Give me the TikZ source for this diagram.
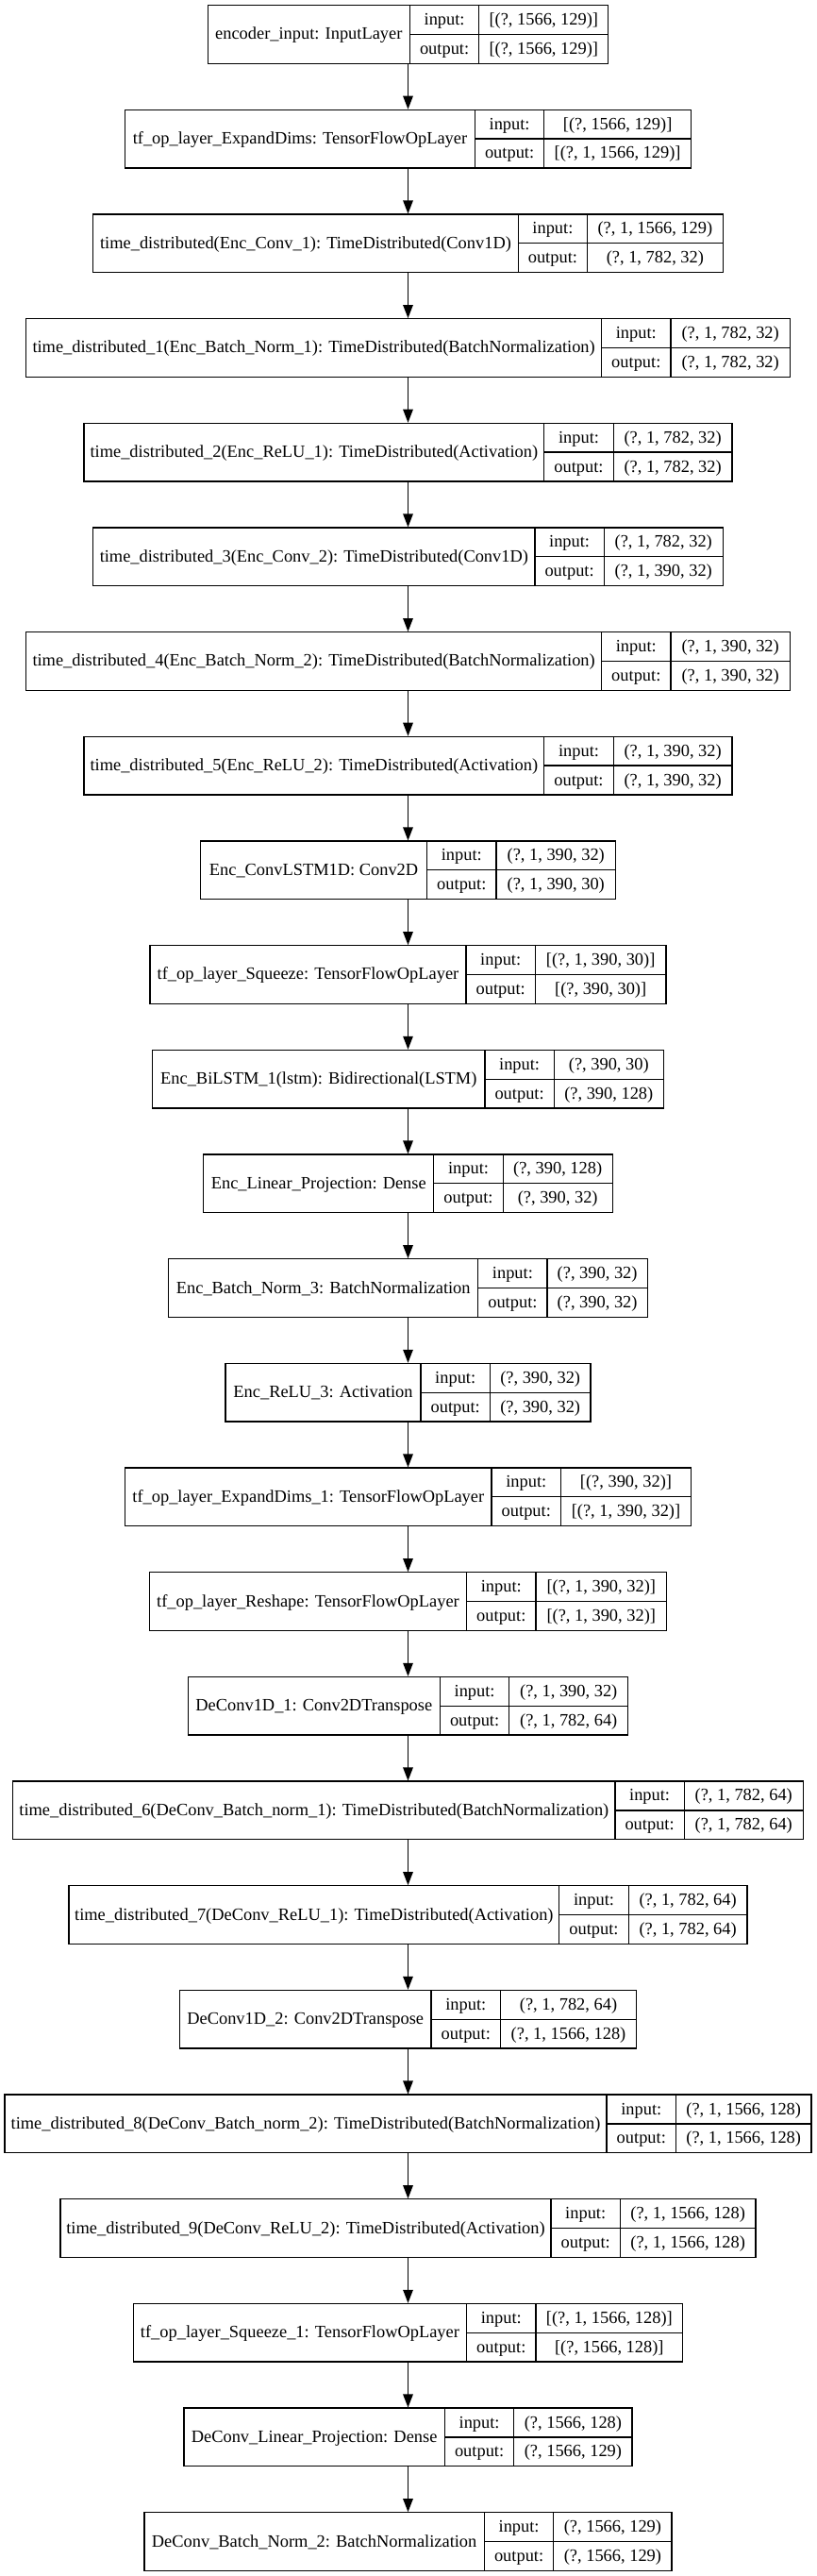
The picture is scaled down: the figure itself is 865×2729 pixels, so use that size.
\documentclass[tikz,border=0pt]{standalone}
\usepackage{fontspec}
\setmainfont{Liberation Serif}
\usetikzlibrary{arrows.meta}

\tikzset{
	layerbox/.style={draw, line width=1.3pt, inner sep=0pt, minimum height=61.5pt},
	cell/.style={inner sep=0pt, anchor=base, font=\fontsize{18.4}{22}\selectfont},
	flow/.style={-{Triangle[length=14pt,width=10.5pt]}, line width=1.3pt},
}

\begin{document}
\begin{tikzpicture}[x=1pt,y=1pt]
	
	\def \boxh{61.5}
	\def \period{110.67}
	\def \celw{73.4}
	\def \xmid{432.5}
	
	\useasboundingbox (0,0) rectangle (865,-2729);
	
	% LAYERS: number / left edge / first divider / name / input / output
	\foreach \i/\xl/\da/\lname/\vin/\vout in {
		1/220.2/434.4/{encoder\_input: InputLayer}/{[(?, 1566, 129)]}/{[(?, 1566, 129)]},
		2/132.5/503.4/{tf\_op\_layer\_ExpandDims: TensorFlowOpLayer}/{[(?, 1566, 129)]}/{[(?, 1, 1566, 129)]},
		3/98.8/549.2/{time\_distributed(Enc\_Conv\_1): TimeDistributed(Conv1D)}/{(?, 1, 1566, 129)}/{(?, 1, 782, 32)},
		4/27.6/637.6/{time\_distributed\_1(Enc\_Batch\_Norm\_1): TimeDistributed(BatchNormalization)}/{(?, 1, 782, 32)}/{(?, 1, 782, 32)},
		5/88.9/576.8/{time\_distributed\_2(Enc\_ReLU\_1): TimeDistributed(Activation)}/{(?, 1, 782, 32)}/{(?, 1, 782, 32)},
		6/98.8/566.9/{time\_distributed\_3(Enc\_Conv\_2): TimeDistributed(Conv1D)}/{(?, 1, 782, 32)}/{(?, 1, 390, 32)},
		7/27.6/637.6/{time\_distributed\_4(Enc\_Batch\_Norm\_2): TimeDistributed(BatchNormalization)}/{(?, 1, 390, 32)}/{(?, 1, 390, 32)},
		8/88.9/576.8/{time\_distributed\_5(Enc\_ReLU\_2): TimeDistributed(Activation)}/{(?, 1, 390, 32)}/{(?, 1, 390, 32)},
		9/212.5/452.6/{Enc\_ConvLSTM1D: Conv2D}/{(?, 1, 390, 32)}/{(?, 1, 390, 30)},
		10/159.0/494.0/{tf\_op\_layer\_Squeeze: TensorFlowOpLayer}/{[(?, 1, 390, 30)]}/{[(?, 390, 30)]},
		11/161.7/513.9/{Enc\_BiLSTM\_1(lstm): Bidirectional(LSTM)}/{(?, 390, 30)}/{(?, 390, 128)},
		12/215.8/459.8/{Enc\_Linear\_Projection: Dense}/{(?, 390, 128)}/{(?, 390, 32)},
		13/178.8/506.7/{Enc\_Batch\_Norm\_3: BatchNormalization}/{(?, 390, 32)}/{(?, 390, 32)},
		14/239.0/446.0/{Enc\_ReLU\_3: Activation}/{(?, 390, 32)}/{(?, 390, 32)},
		15/132.5/521.1/{tf\_op\_layer\_ExpandDims\_1: TensorFlowOpLayer}/{[(?, 390, 32)]}/{[(?, 1, 390, 32)]},
		16/158.4/494.6/{tf\_op\_layer\_Reshape: TensorFlowOpLayer}/{[(?, 1, 390, 32)]}/{[(?, 1, 390, 32)]},
		17/199.3/466.4/{DeConv1D\_1: Conv2DTranspose}/{(?, 1, 390, 32)}/{(?, 1, 782, 64)},
		18/13.8/651.9/{time\_distributed\_6(DeConv\_Batch\_norm\_1): TimeDistributed(BatchNormalization)}/{(?, 1, 782, 64)}/{(?, 1, 782, 64)},
		19/72.9/592.8/{time\_distributed\_7(DeConv\_ReLU\_1): TimeDistributed(Activation)}/{(?, 1, 782, 64)}/{(?, 1, 782, 64)},
		20/190.4/457.1/{DeConv1D\_2: Conv2DTranspose}/{(?, 1, 782, 64)}/{(?, 1, 1566, 128)},
		21/5.0/643.1/{time\_distributed\_8(DeConv\_Batch\_norm\_2): TimeDistributed(BatchNormalization)}/{(?, 1, 1566, 128)}/{(?, 1, 1566, 128)},
		22/64.0/584.0/{time\_distributed\_9(DeConv\_ReLU\_2): TimeDistributed(Activation)}/{(?, 1, 1566, 128)}/{(?, 1, 1566, 128)},
		23/141.3/494.6/{tf\_op\_layer\_Squeeze\_1: TensorFlowOpLayer}/{[(?, 1, 1566, 128)]}/{[(?, 1566, 128)]},
		24/194.9/471.4/{DeConv\_Linear\_Projection: Dense}/{(?, 1566, 128)}/{(?, 1566, 129)},
		25/152.9/513.4/{DeConv\_Batch\_Norm\_2: BatchNormalization}/{(?, 1566, 129)}/{(?, 1566, 129)}%
	}{
		\pgfmathsetmacro \yt{-5.7-(\i-1)*\period}
		\pgfmathsetmacro \yb{\yt-\boxh}
		\pgfmathsetmacro \ym{\yt-\boxh/2}
		\pgfmathsetmacro \xr{865-\xl}
		\pgfmathsetmacro \db{\da+\celw}
		\pgfmathsetmacro \bw{\xr-\xl}
		
		\node[layerbox, minimum width=\bw pt] (L\i) at (\xmid,\ym) {};
		\draw[line width=1.3pt] (\da,\yt) -- (\da,\yb);
		\draw[line width=1.3pt] (\db,\yt) -- (\db,\yb);
		\draw[line width=1.3pt] (\da,\ym) -- (\xr,\ym);
		
		\node[cell] (N\i) at ({(\xl+\da)/2}, \ym-5.5) {\lname};
		\node[cell] (I\i) at ({(\da+\db)/2}, \ym+\boxh/4-5.5) {input:};
		\node[cell] (O\i) at ({(\da+\db)/2}, \ym-\boxh/4-5.5) {output:};
		\node[cell] (VI\i) at ({(\db+\xr)/2}, \ym+\boxh/4-5.5) {\vin};
		\node[cell] (VO\i) at ({(\db+\xr)/2}, \ym-\boxh/4-5.5) {\vout};
	}
	
	% CONNECTORS
	\foreach \i in {1,...,24}{
		\pgfmathtruncatemacro \j{\i+1}
		\draw[flow] (L\i.south) -- (L\j.north);
	}
	
\end{tikzpicture}
\end{document}
